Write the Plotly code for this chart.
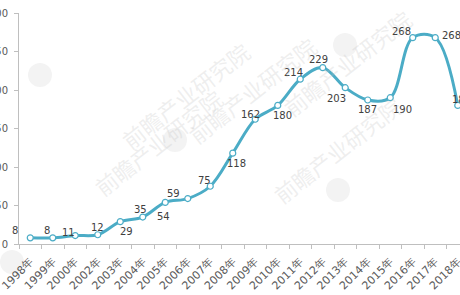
import plotly.graph_objects as go

years = ["1998年", "1999年", "2000年", "2002年", "2003年", "2004年", "2005年", "2006年",
         "2007年", "2008年", "2009年", "2010年", "2011年", "2012年", "2013年", "2014年",
         "2015年", "2016年", "2017年", "2018年"]
values = [8, 8, 11, 12, 29, 35, 54, 59, 75, 118, 162, 180, 214, 229, 203, 187, 190, 268, 268, 180]
y_ticks = [0, 50, 100, 150, 200, 250, 300]

# label offsets in pixels (dx, dy up)
label_offsets = [(-15, 7), (-6, 7), (-7, 3), (0, 7), (6, -10), (-2, 8), (-2, -14), (-14, 5),
                 (-6, 6), (4, -10), (-5, 5), (5, -10), (-7, 7), (-4, 8), (-9, -11), (0, -9),
                 (12, -12), (-11, 6), (16, 2), (4, 6)]

W, H = 460, 295
L, R, T, B = 19, 0, 13, 51
LINE = "#4BACC6"

fig = go.Figure()
fig.add_trace(go.Scatter(
    x=years, y=values, mode="lines+markers",
    line=dict(color=LINE, width=3, shape="spline", smoothing=1.0),
    marker=dict(size=6, color="white", line=dict(color=LINE, width=1.2)),
    cliponaxis=False, hoverinfo="skip", showlegend=False,
))

annotations = []
for yr, v, (dx, dy) in zip(years, values, label_offsets):
    annotations.append(dict(x=yr, y=v, xref="x", yref="y", text=str(v), showarrow=False,
                            xshift=dx, yshift=dy, font=dict(family="DejaVu Sans", size=10, color="#404040")))

# faint watermarks
pw, ph = W - L - R, H - T - B
def px2paper(px, py):
    return (px - L) / pw, (H - B - py) / ph

marks = [(112, 32, 22), (252, 90, 22), (85, 205, 22), (420, 0, 22), (410, 150, 22)]
for (px, py, sz) in marks:
    xp, yp = px2paper(px, py)
    annotations.append(dict(x=xp, y=yp, xref="paper", yref="paper", text="前瞻产业研究院",
                            showarrow=False, textangle=-38,
                            font=dict(family="Noto Sans CJK SC", size=sz, color="rgba(190,190,190,0.25)")))
logos = [(40, 75), (175, 140), (12, 262), (345, 45), (338, 190)]
shapes = []
for (px, py) in logos:
    x0, y0 = px2paper(px - 12, py + 12)
    x1, y1 = px2paper(px + 12, py - 12)
    shapes.append(dict(type="circle", xref="paper", yref="paper", x0=x0, y0=y0, x1=x1, y1=y1,
                       fillcolor="rgba(200,200,200,0.22)", line=dict(width=0), layer="below"))

fig.update_layout(
    width=W, height=H,
    margin=dict(l=L, r=R, t=T, b=B, autoexpand=False),
    paper_bgcolor="white", plot_bgcolor="white",
    annotations=annotations, shapes=shapes,
    xaxis=dict(type="category", range=[-0.5, 19.1], showgrid=False, zeroline=False,
               showline=True, linecolor="#BFBFBF", linewidth=1,
               ticks="outside", ticklen=4, tickcolor="#BFBFBF", tickson="boundaries",
               tickangle=-45, ticklabelstandoff=6,
               tickfont=dict(family="DejaVu Sans", size=11, color="#595959"),
               automargin=False),
    yaxis=dict(range=[0, 300], tickvals=y_ticks, showgrid=False, zeroline=False,
               showline=True, linecolor="#BFBFBF", linewidth=1,
               ticks="outside", ticklen=4, tickcolor="#BFBFBF", ticklabelstandoff=4,
               tickfont=dict(family="DejaVu Sans", size=10, color="#595959"),
               automargin=False),
)

fig.write_html("out.html")
